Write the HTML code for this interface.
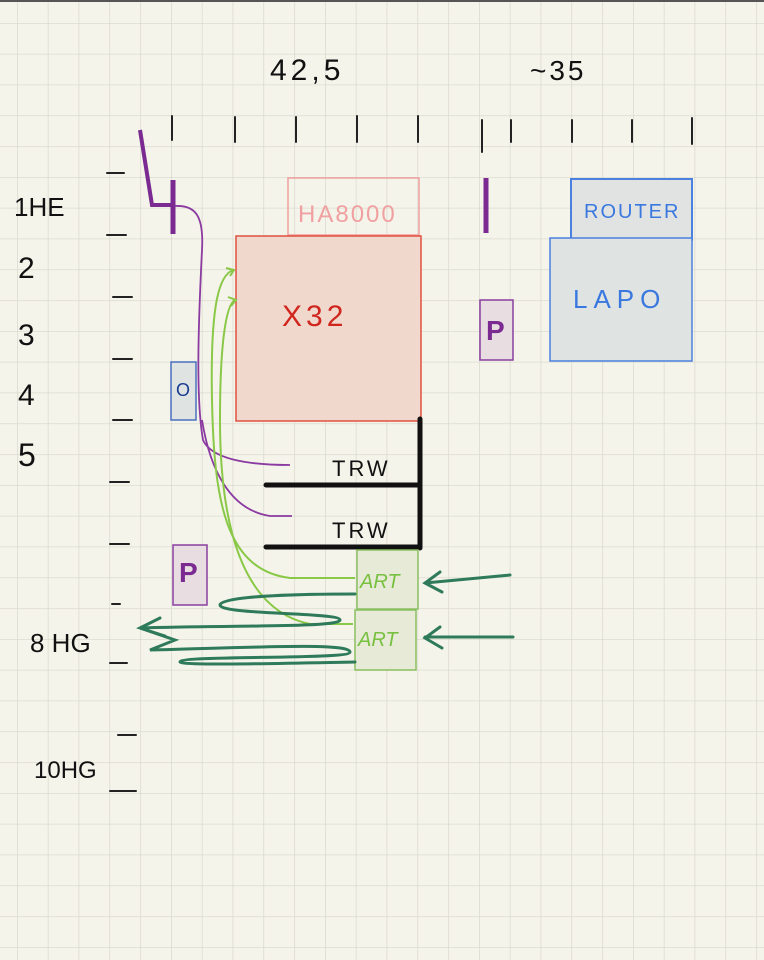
<!DOCTYPE html>
<html><head><meta charset="utf-8"><style>
html,body{margin:0;padding:0;background:#f5f4ea;}
svg{display:block}
text{font-family:"Liberation Sans",sans-serif;}
</style></head><body>
<svg width="764" height="960" viewBox="0 0 764 960" xmlns="http://www.w3.org/2000/svg">
<defs>
<pattern id="g" x="17" y="23" width="30.8" height="30.8" patternUnits="userSpaceOnUse">
<path d="M0 0H30.8M0 0V30.8" stroke="#d6d6ca" stroke-width="1.3" fill="none"/>
</pattern>
</defs>
<rect width="764" height="960" fill="#f5f4ea"/>
<rect width="764" height="960" fill="url(#g)"/>
<rect width="764" height="2" fill="#555"/>

<text x="270" y="80" font-size="30" fill="#111" letter-spacing="4">42,5</text>
<text x="530" y="80" font-size="28" fill="#111" letter-spacing="3">~35</text>
<g stroke="#222" stroke-width="2" stroke-linecap="round">
<path d="M172 116V140M235 117V142M296 117V142M357 116V142M418 116V142M482 120V152M511 120V142M572 120V142M632 120V142M692 118V144"/>
<path d="M107 173H124M107 235H126M113 297H132M113 359H132M113 420H132M110 482H129M110 544H129M112 604H120M110 663H127M118 735H136M110 791H136"/>
</g>
<g fill="#111">
<text x="14" y="216" font-size="26">1HE</text>
<text x="18" y="278" font-size="30">2</text>
<text x="18" y="345" font-size="30">3</text>
<text x="18" y="405" font-size="30">4</text>
<text x="18" y="466" font-size="32">5</text>
<text x="30" y="652" font-size="26">8 HG</text>
<text x="34" y="778" font-size="24">10HG</text>
</g>

<path d="M140 130L152 205H172" stroke="#7a2a90" stroke-width="4" fill="none"/>
<path d="M173 180V234" stroke="#7a2a90" stroke-width="5"/>
<path d="M486 178V233" stroke="#7a2a90" stroke-width="5"/>

<rect x="288" y="178" width="131" height="57" fill="none" stroke="#f0a0a0" stroke-width="1.5"/>
<text x="298" y="222" font-size="24" fill="#f0a0a0" letter-spacing="2">HA8000</text>
<rect x="236" y="236" width="185" height="185" fill="#f0d8cc" stroke="#e05040" stroke-width="1.5"/>
<text x="282" y="326" font-size="30" fill="#d0261e" letter-spacing="4">X32</text>

<rect x="571" y="179" width="121" height="61" fill="#e0e3e2" stroke="#4a80e0" stroke-width="2"/>
<text x="584" y="218" font-size="20" fill="#3a78e0" letter-spacing="2">ROUTER</text>
<rect x="550" y="238" width="142" height="123" fill="#dfe3e2" stroke="#4a80e0" stroke-width="1.5"/>
<text x="573" y="308" font-size="26" fill="#3a78e0" letter-spacing="6">LAPO</text>

<rect x="480" y="300" width="33" height="60" fill="#e8dde0" stroke="#8a3fa0" stroke-width="1.5"/>
<text x="486" y="340" font-size="28" font-weight="bold" fill="#7a2a90">P</text>
<rect x="173" y="545" width="34" height="60" fill="#e8dde0" stroke="#8a3fa0" stroke-width="1.5"/>
<text x="179" y="582" font-size="28" font-weight="bold" fill="#7a2a90">P</text>
<rect x="171" y="362" width="25" height="58" fill="#dfe3e2" stroke="#4a70c0" stroke-width="1.5"/>
<text x="176" y="396" font-size="18" fill="#1a3c90">O</text>

<path d="M420 419V548M266 485H420M266 547H420" stroke="#111" stroke-width="5" fill="none" stroke-linecap="round"/>
<text x="332" y="476" font-size="22" fill="#111" letter-spacing="3">TRW</text>
<text x="332" y="538" font-size="22" fill="#111" letter-spacing="3">TRW</text>

<rect x="357" y="550" width="61" height="59" fill="#e6ead6" stroke="#8ac060" stroke-width="1.5"/>
<rect x="355" y="610" width="61" height="60" fill="#e6ead6" stroke="#8ac060" stroke-width="1.5"/>
<text x="360" y="588" font-size="20" font-style="italic" fill="#78c040">ART</text>
<text x="358" y="646" font-size="20" font-style="italic" fill="#78c040">ART</text>

<g stroke="#8a3aa0" stroke-width="1.8" fill="none">
<path d="M175 206C195 205 204 215 202 250C198 330 196 400 203 440C212 460 250 465 290 465"/>
<path d="M202 420C210 470 230 510 270 516H292"/>
</g>
<g stroke="#8ac848" stroke-width="2" fill="none">
<path d="M233 270C220 275 210 300 212 400C214 500 225 570 290 578H355"/>
<path d="M235 300C225 305 220 350 220 420C220 520 240 610 310 624H353"/>
<path d="M226 268l8 2-4 6M228 297l8 3-5 6"/>
</g>
<g stroke="#2e7a5a" stroke-width="3" fill="none" stroke-linecap="round">
<path d="M510 575L425 583M440 572L425 583 442 592"/>
<path d="M513 637H425M440 627L425 638 442 648"/>
<path d="M355 594C300 594 220 596 220 605C220 615 340 612 340 620C340 628 220 625 140 628L175 640L150 650C240 648 350 642 350 652C350 660 180 655 180 662C180 666 300 663 355 662"/>
<path d="M160 618L140 628 165 636"/>
</g>
</svg>
</body></html>
